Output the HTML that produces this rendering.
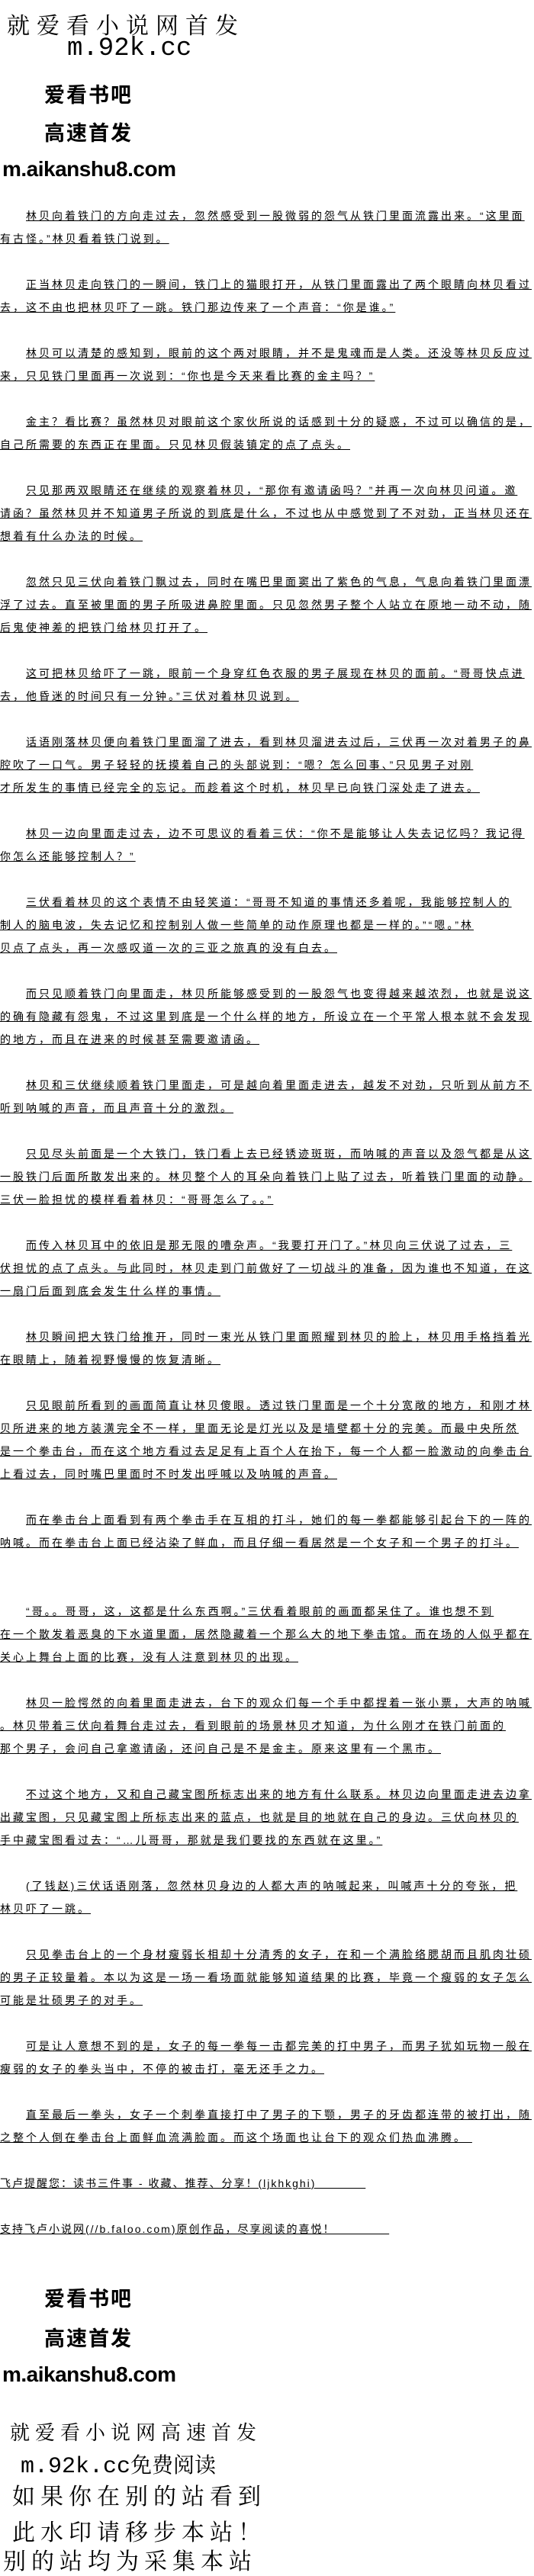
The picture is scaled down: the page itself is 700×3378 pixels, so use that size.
<!DOCTYPE html>
<html><head><meta charset="utf-8"><style>
html,body{margin:0;padding:0;background:#fff;}
body{width:700px;height:3374px;position:relative;overflow:hidden;color:#000;}
.l{position:absolute;left:0;white-space:nowrap;font-family:"Liberation Sans","Noto Sans CJK SC",sans-serif;font-size:14px;line-height:18px;letter-spacing:3px;}
.l span{text-decoration:underline;}
.i{padding-left:34px;}
.h{position:absolute;white-space:nowrap;}
.kai{font-family:"Noto Serif CJK SC","Liberation Serif",serif;font-size:30px;line-height:32px;}
.mono{font-family:"Liberation Mono",monospace;}
.bold{font-family:"Liberation Sans","Noto Sans CJK SC",sans-serif;font-weight:bold;}
</style></head><body>
<div class="h kai" style="left:9px;top:15px;letter-spacing:9px;">就爱看小说网首发</div>
<div class="h mono" style="left:88px;top:46px;font-size:34px;line-height:36px;">m.92k.cc</div>
<div class="h bold" style="left:58px;top:110px;font-size:27px;line-height:30px;letter-spacing:2px;">爱看书吧</div>
<div class="h bold" style="left:58px;top:160px;font-size:27px;line-height:30px;letter-spacing:2px;">高速首发</div>
<div class="h bold" style="left:3px;top:206px;font-size:28px;line-height:32px;letter-spacing:-0.5px;">m.aikanshu8.com</div>

<div class="l i" style="top:274px"><span>林贝向着铁门的方向走过去，忽然感受到一股微弱的怨气从铁门里面流露出来。“这里面</span></div>
<div class="l" style="top:304px"><span>有古怪。”林贝看着铁门说到。</span></div>
<div class="l i" style="top:364px"><span>正当林贝走向铁门的一瞬间，铁门上的猫眼打开，从铁门里面露出了两个眼睛向林贝看过</span></div>
<div class="l" style="top:394px"><span>去，这不由也把林贝吓了一跳。铁门那边传来了一个声音：“你是谁。”</span></div>
<div class="l i" style="top:454px"><span>林贝可以清楚的感知到，眼前的这个两对眼睛，并不是鬼魂而是人类。还没等林贝反应过</span></div>
<div class="l" style="top:484px"><span>来，只见铁门里面再一次说到：“你也是今天来看比赛的金主吗？”</span></div>
<div class="l i" style="top:544px"><span>金主？看比赛？虽然林贝对眼前这个家伙所说的话感到十分的疑惑，不过可以确信的是，</span></div>
<div class="l" style="top:574px"><span>自己所需要的东西正在里面。只见林贝假装镇定的点了点头。</span></div>
<div class="l i" style="top:634px"><span>只见那两双眼睛还在继续的观察着林贝，“那你有邀请函吗？”并再一次向林贝问道。邀</span></div>
<div class="l" style="top:664px"><span>请函？虽然林贝并不知道男子所说的到底是什么，不过也从中感觉到了不对劲，正当林贝还在</span></div>
<div class="l" style="top:694px"><span>想着有什么办法的时候。</span></div>
<div class="l i" style="top:754px"><span>忽然只见三伏向着铁门飘过去，同时在嘴巴里面窦出了紫色的气息，气息向着铁门里面漂</span></div>
<div class="l" style="top:784px"><span>浮了过去。直至被里面的男子所吸进鼻腔里面。只见忽然男子整个人站立在原地一动不动，随</span></div>
<div class="l" style="top:814px"><span>后鬼使神差的把铁门给林贝打开了。</span></div>
<div class="l i" style="top:874px"><span>这可把林贝给吓了一跳，眼前一个身穿红色衣服的男子展现在林贝的面前。“哥哥快点进</span></div>
<div class="l" style="top:904px"><span>去，他昏迷的时间只有一分钟。”三伏对着林贝说到。</span></div>
<div class="l i" style="top:964px"><span>话语刚落林贝便向着铁门里面溜了进去，看到林贝溜进去过后，三伏再一次对着男子的鼻</span></div>
<div class="l" style="top:994px"><span>腔吹了一口气。男子轻轻的抚摸着自己的头部说到：“嗯？怎么回事、”只见男子对刚</span></div>
<div class="l" style="top:1024px"><span>才所发生的事情已经完全的忘记。而趁着这个时机，林贝早已向铁门深处走了进去。</span></div>
<div class="l i" style="top:1084px"><span>林贝一边向里面走过去，边不可思议的看着三伏：“你不是能够让人失去记忆吗？我记得</span></div>
<div class="l" style="top:1114px"><span>你怎么还能够控制人？”</span></div>
<div class="l i" style="top:1174px"><span>三伏看着林贝的这个表情不由轻笑道：“哥哥不知道的事情还多着呢，我能够控制人的</span></div>
<div class="l" style="top:1204px"><span>制人的脑电波，失去记忆和控制别人做一些简单的动作原理也都是一样的。”“嗯。”林</span></div>
<div class="l" style="top:1234px"><span>贝点了点头，再一次感叹道一次的三亚之旅真的没有白去。</span></div>
<div class="l i" style="top:1294px"><span>而只见顺着铁门向里面走，林贝所能够感受到的一股怨气也变得越来越浓烈，也就是说这</span></div>
<div class="l" style="top:1324px"><span>的确有隐藏有怨鬼，不过这里到底是一个什么样的地方，所设立在一个平常人根本就不会发现</span></div>
<div class="l" style="top:1354px"><span>的地方，而且在进来的时候甚至需要邀请函。</span></div>
<div class="l i" style="top:1414px"><span>林贝和三伏继续顺着铁门里面走，可是越向着里面走进去，越发不对劲，只听到从前方不</span></div>
<div class="l" style="top:1444px"><span>听到呐喊的声音，而且声音十分的激烈。</span></div>
<div class="l i" style="top:1504px"><span>只见尽头前面是一个大铁门，铁门看上去已经锈迹斑斑，而呐喊的声音以及怨气都是从这</span></div>
<div class="l" style="top:1534px"><span>一股铁门后面所散发出来的。林贝整个人的耳朵向着铁门上贴了过去，听着铁门里面的动静。</span></div>
<div class="l" style="top:1564px"><span>三伏一脸担忧的模样看着林贝：“哥哥怎么了。。”</span></div>
<div class="l i" style="top:1624px"><span>而传入林贝耳中的依旧是那无限的嘈杂声。“我要打开门了。”林贝向三伏说了过去，三</span></div>
<div class="l" style="top:1654px"><span>伏担忧的点了点头。与此同时，林贝走到门前做好了一切战斗的准备，因为谁也不知道，在这</span></div>
<div class="l" style="top:1684px"><span>一扇门后面到底会发生什么样的事情。</span></div>
<div class="l i" style="top:1744px"><span>林贝瞬间把大铁门给推开，同时一束光从铁门里面照耀到林贝的脸上，林贝用手格挡着光</span></div>
<div class="l" style="top:1774px"><span>在眼睛上，随着视野慢慢的恢复清晰。</span></div>
<div class="l i" style="top:1834px"><span>只见眼前所看到的画面简直让林贝傻眼。透过铁门里面是一个十分宽敞的地方，和刚才林</span></div>
<div class="l" style="top:1864px"><span>贝所进来的地方装潢完全不一样，里面无论是灯光以及是墙壁都十分的完美。而最中央所然</span></div>
<div class="l" style="top:1894px"><span>是一个拳击台，而在这个地方看过去足足有上百个人在抬下，每一个人都一脸激动的向拳击台</span></div>
<div class="l" style="top:1924px"><span>上看过去，同时嘴巴里面时不时发出呼喊以及呐喊的声音。</span></div>
<div class="l i" style="top:1984px"><span>而在拳击台上面看到有两个拳击手在互相的打斗，她们的每一拳都能够引起台下的一阵的</span></div>
<div class="l" style="top:2014px"><span>呐喊。而在拳击台上面已经沾染了鲜血，而且仔细一看居然是一个女子和一个男子的打斗。</span></div>
<div class="l i" style="top:2104px"><span>“哥。。哥哥，这，这都是什么东西啊。”三伏看着眼前的画面都呆住了。谁也想不到</span></div>
<div class="l" style="top:2134px"><span>在一个散发着恶臭的下水道里面，居然隐藏着一个那么大的地下拳击馆。而在场的人似乎都在</span></div>
<div class="l" style="top:2164px"><span>关心上舞台上面的比赛，没有人注意到林贝的出现。</span></div>
<div class="l i" style="top:2224px"><span>林贝一脸愕然的向着里面走进去，台下的观众们每一个手中都捏着一张小票，大声的呐喊</span></div>
<div class="l" style="top:2254px"><span>。林贝带着三伏向着舞台走过去，看到眼前的场景林贝才知道，为什么刚才在铁门前面的</span></div>
<div class="l" style="top:2284px"><span>那个男子，会问自己拿邀请函，还问自己是不是金主。原来这里有一个黑市。</span></div>
<div class="l i" style="top:2344px"><span>不过这个地方，又和自己藏宝图所标志出来的地方有什么联系。林贝边向里面走进去边拿</span></div>
<div class="l" style="top:2374px"><span>出藏宝图，只见藏宝图上所标志出来的蓝点，也就是目的地就在自己的身边。三伏向林贝的</span></div>
<div class="l" style="top:2404px"><span>手中藏宝图看过去：“…儿哥哥，那就是我们要找的东西就在这里。”</span></div>
<div class="l i" style="top:2464px"><span>(了钱赵)三伏话语刚落，忽然林贝身边的人都大声的呐喊起来，叫喊声十分的夸张，把</span></div>
<div class="l" style="top:2494px"><span>林贝吓了一跳。</span></div>
<div class="l i" style="top:2554px"><span>只见拳击台上的一个身材瘦弱长相却十分清秀的女子，在和一个满脸络腮胡而且肌肉壮硕</span></div>
<div class="l" style="top:2584px"><span>的男子正较量着。本以为这是一场一看场面就能够知道结果的比赛，毕竟一个瘦弱的女子怎么</span></div>
<div class="l" style="top:2614px"><span>可能是壮硕男子的对手。</span></div>
<div class="l i" style="top:2674px"><span>可是让人意想不到的是，女子的每一拳每一击都完美的打中男子，而男子犹如玩物一般在</span></div>
<div class="l" style="top:2704px"><span>瘦弱的女子的拳头当中，不停的被击打，毫无还手之力。</span></div>
<div class="l i" style="top:2764px"><span>直至最后一拳头，女子一个刺拳直接打中了男子的下颚，男子的牙齿都连带的被打出，随</span></div>
<div class="l" style="top:2794px"><span>之整个人倒在拳击台上面鲜血流满脸面。而这个场面也让台下的观众们热血沸腾。&nbsp;</span></div>
<div class="l" style="top:2854px;letter-spacing:2px;"><span>飞卢提醒您：读书三件事 - 收藏、推荐、分享！(ljkhkghi)&nbsp;&nbsp;&nbsp;&nbsp;&nbsp;&nbsp;&nbsp;&nbsp;&nbsp;&nbsp;&nbsp;</span></div>
<div class="l" style="top:2914px;letter-spacing:2px;"><span>支持飞卢小说网(//b.faloo.com)原创作品，尽享阅读的喜悦！&nbsp;&nbsp;&nbsp;&nbsp;&nbsp;&nbsp;&nbsp;&nbsp;&nbsp;&nbsp;&nbsp;&nbsp;</span></div>

<div class="h bold" style="left:58px;top:3000px;font-size:27px;line-height:30px;letter-spacing:2px;">爱看书吧</div>
<div class="h bold" style="left:58px;top:3052px;font-size:27px;line-height:30px;letter-spacing:2px;">高速首发</div>
<div class="h bold" style="left:3px;top:3098px;font-size:28px;line-height:32px;letter-spacing:-0.5px;">m.aikanshu8.com</div>
<div class="h kai" style="left:13px;top:3175px;font-size:26px;line-height:28px;letter-spacing:7px;">就爱看小说网高速首发</div>
<div class="h kai" style="left:27px;top:3216px;font-size:28px;line-height:30px;"><span class="mono" style="font-size:30px;">m.92k.cc</span>免费阅读</div>
<div class="h kai" style="left:16px;top:3255px;font-size:30px;line-height:32px;letter-spacing:7px;">如果你在别的站看到</div>
<div class="h kai" style="left:16px;top:3302px;font-size:30px;line-height:32px;letter-spacing:7px;">此水印请移步本站！</div>
<div class="h kai" style="left:4px;top:3340px;font-size:30px;line-height:32px;letter-spacing:7px;">别的站均为采集本站</div>
</body></html>
